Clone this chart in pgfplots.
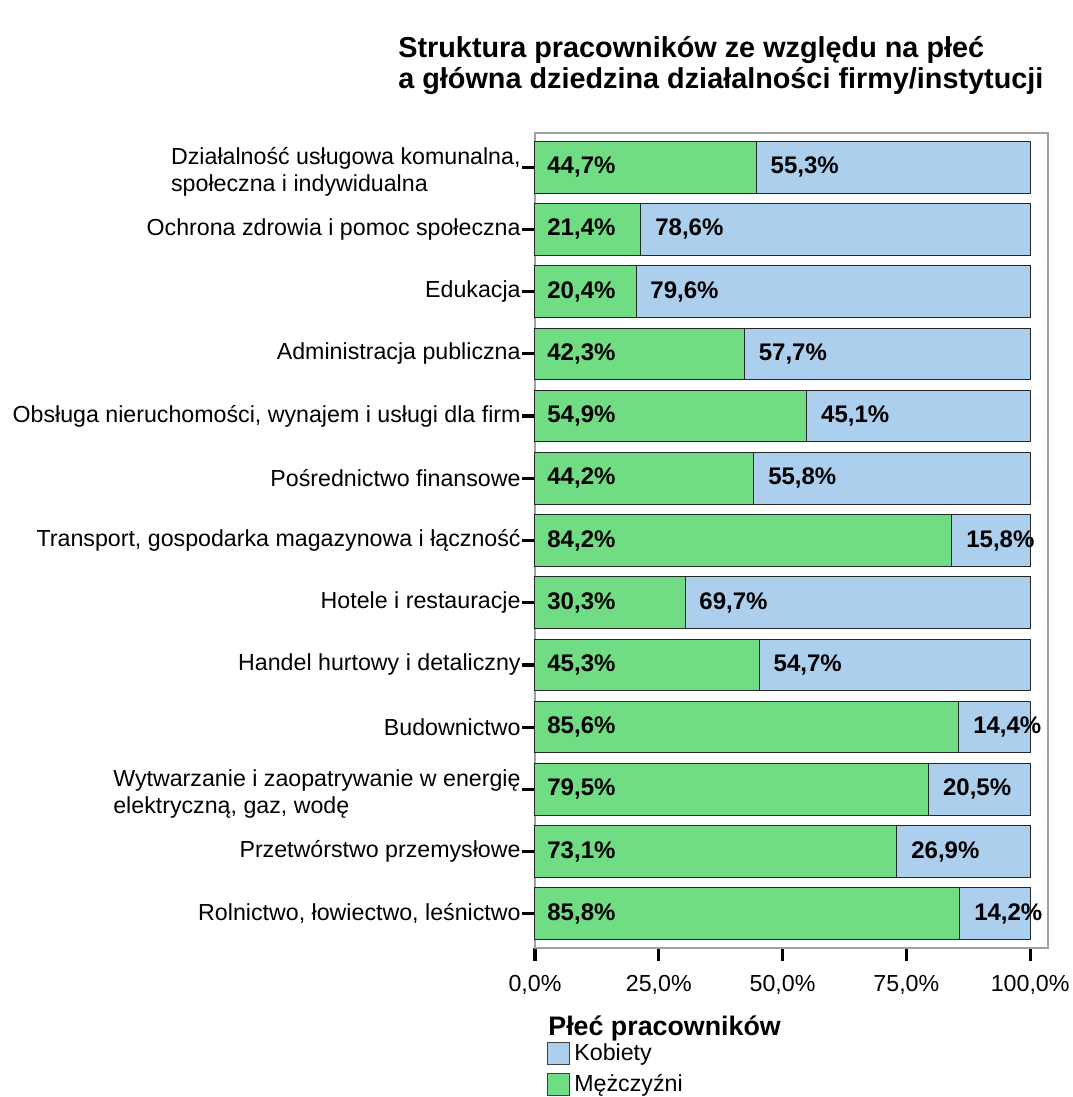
\documentclass[border=0pt]{standalone}
\usepackage{pgfplots}
\pgfplotsset{compat=1.18}
\usepackage{pgfplotstable}
\usepackage{fontspec}
\setmainfont{Liberation Sans}
\definecolor{mgreen}{RGB}{112,220,132}
\definecolor{kblue}{RGB}{172,207,237}
\definecolor{framegrey}{RGB}{160,160,160}

% y: 0 = top row; m = Mezczyzni, k = Kobiety, t = suma
\pgfplotstableread{
y m k t
0 44.7 55.3 100
1 21.4 78.6 100
2 20.4 79.6 100
3 42.3 57.7 100
4 54.9 45.1 100
5 44.2 55.8 100
6 84.2 15.8 100
7 30.3 69.7 100
8 45.3 54.7 100
9 85.6 14.4 100
10 79.5 20.5 100
11 73.1 26.9 100
12 85.8 14.2 100
}\dane

\newcommand{\topstrut}{\rule{0pt}{13.5pt}}

\begin{document}
\begin{tikzpicture}
\useasboundingbox (-267.5pt,-74.5pt) rectangle (268.5pt,474pt);
\begin{axis}[
    at={(0,0)}, anchor=south west,
    scale only axis, width=256.5pt, height=407.5pt,
    xmin=0, xmax=103.6, ymin=-0.55, ymax=12.55, y dir=reverse,
    clip=false,
    axis line style={draw=framegrey, line width=0.7pt},
    tick align=outside, tick pos=left, major tick length=6.5pt,
    tick style={black, line width=1.6pt},
    /pgf/number format/assume math mode=true,
    xtick={0,25,50,75,100},
    xticklabel={\pgfmathprintnumber[fixed,fixed zerofill,precision=1,use comma]{\tick}\%},
    xticklabel style={font=\fontsize{11.6pt}{13.5pt}\selectfont, yshift=-3.5pt},
    ytick={0,...,12},
    yticklabels={
      {\topstrut Działalność usługowa komunalna,\\społeczna i indywidualna},
      {Ochrona zdrowia i pomoc społeczna},
      {Edukacja},
      {Administracja publiczna},
      {Obsługa nieruchomości, wynajem i usługi dla firm},
      {Pośrednictwo finansowe},
      {Transport, gospodarka magazynowa i łączność},
      {Hotele i restauracje},
      {Handel hurtowy i detaliczny},
      {Budownictwo},
      {\topstrut Wytwarzanie i zaopatrywanie w energię\\elektryczną, gaz, wodę},
      {Przetwórstwo przemysłowe},
      {Rolnictwo, łowiectwo, leśnictwo}},
    yticklabel style={font=\fontsize{11.6pt}{13.5pt}\selectfont, align=left,
      inner xsep=0.5pt},
    legend style={at={(0,0)}, anchor=north west, xshift=6pt, yshift=-45.5pt,
      draw=none, fill=none, inner sep=0pt, row sep=1.5pt,
      font=\fontsize{11.6pt}{13.5pt}\selectfont},
    legend cell align=left,
    legend image code/.code={\draw[#1, draw=black!75, line width=0.5pt] (0pt,-5.5pt) rectangle (11pt,5.5pt);},
]
\addplot[xbar, bar shift=0pt, bar width=0.83, fill=kblue, draw=black!85, line width=0.5pt]
  table[x=t, y=y]{\dane};
\addlegendentry{Kobiety}
\addplot[xbar, bar shift=0pt, bar width=0.83, fill=mgreen, draw=black!85, line width=0.5pt]
  table[x=m, y=y]{\dane};
\addlegendentry{Mężczyźni}

% etykiety procentow
\addplot[forget plot, only marks, mark=none, point meta=\thisrow{m},
  nodes near coords={\pgfmathprintnumber[fixed,fixed zerofill,precision=1,use comma]{\pgfplotspointmeta}\%},
  every node near coord/.style={anchor=west, xshift=6pt, inner sep=0pt,
    font=\bfseries\fontsize{12pt}{14pt}\selectfont}]
  table[x expr=0, y=y]{\dane};
\addplot[forget plot, only marks, mark=none, point meta=\thisrow{k},
  nodes near coords={\pgfmathprintnumber[fixed,fixed zerofill,precision=1,use comma]{\pgfplotspointmeta}\%},
  every node near coord/.style={anchor=west, xshift=7pt, inner sep=0pt,
    font=\bfseries\fontsize{12pt}{14pt}\selectfont}]
  table[x=m, y=y]{\dane};
\end{axis}
\node[anchor=base west, inner sep=0pt, font=\bfseries\fontsize{14.4pt}{15.5pt}\selectfont]
  at (-68.5pt,445pt) {Struktura pracowników ze względu na płeć};
\node[anchor=base west, inner sep=0pt, font=\bfseries\fontsize{14.4pt}{15.5pt}\selectfont]
  at (-68.5pt,429.5pt) {a główna dziedzina działalności firmy/instytucji};
\node[anchor=base west, inner sep=0pt, font=\bfseries\fontsize{13.4pt}{15pt}\selectfont]
  at (6.5pt,-43.5pt) {Płeć pracowników};
\end{tikzpicture}
\end{document}
